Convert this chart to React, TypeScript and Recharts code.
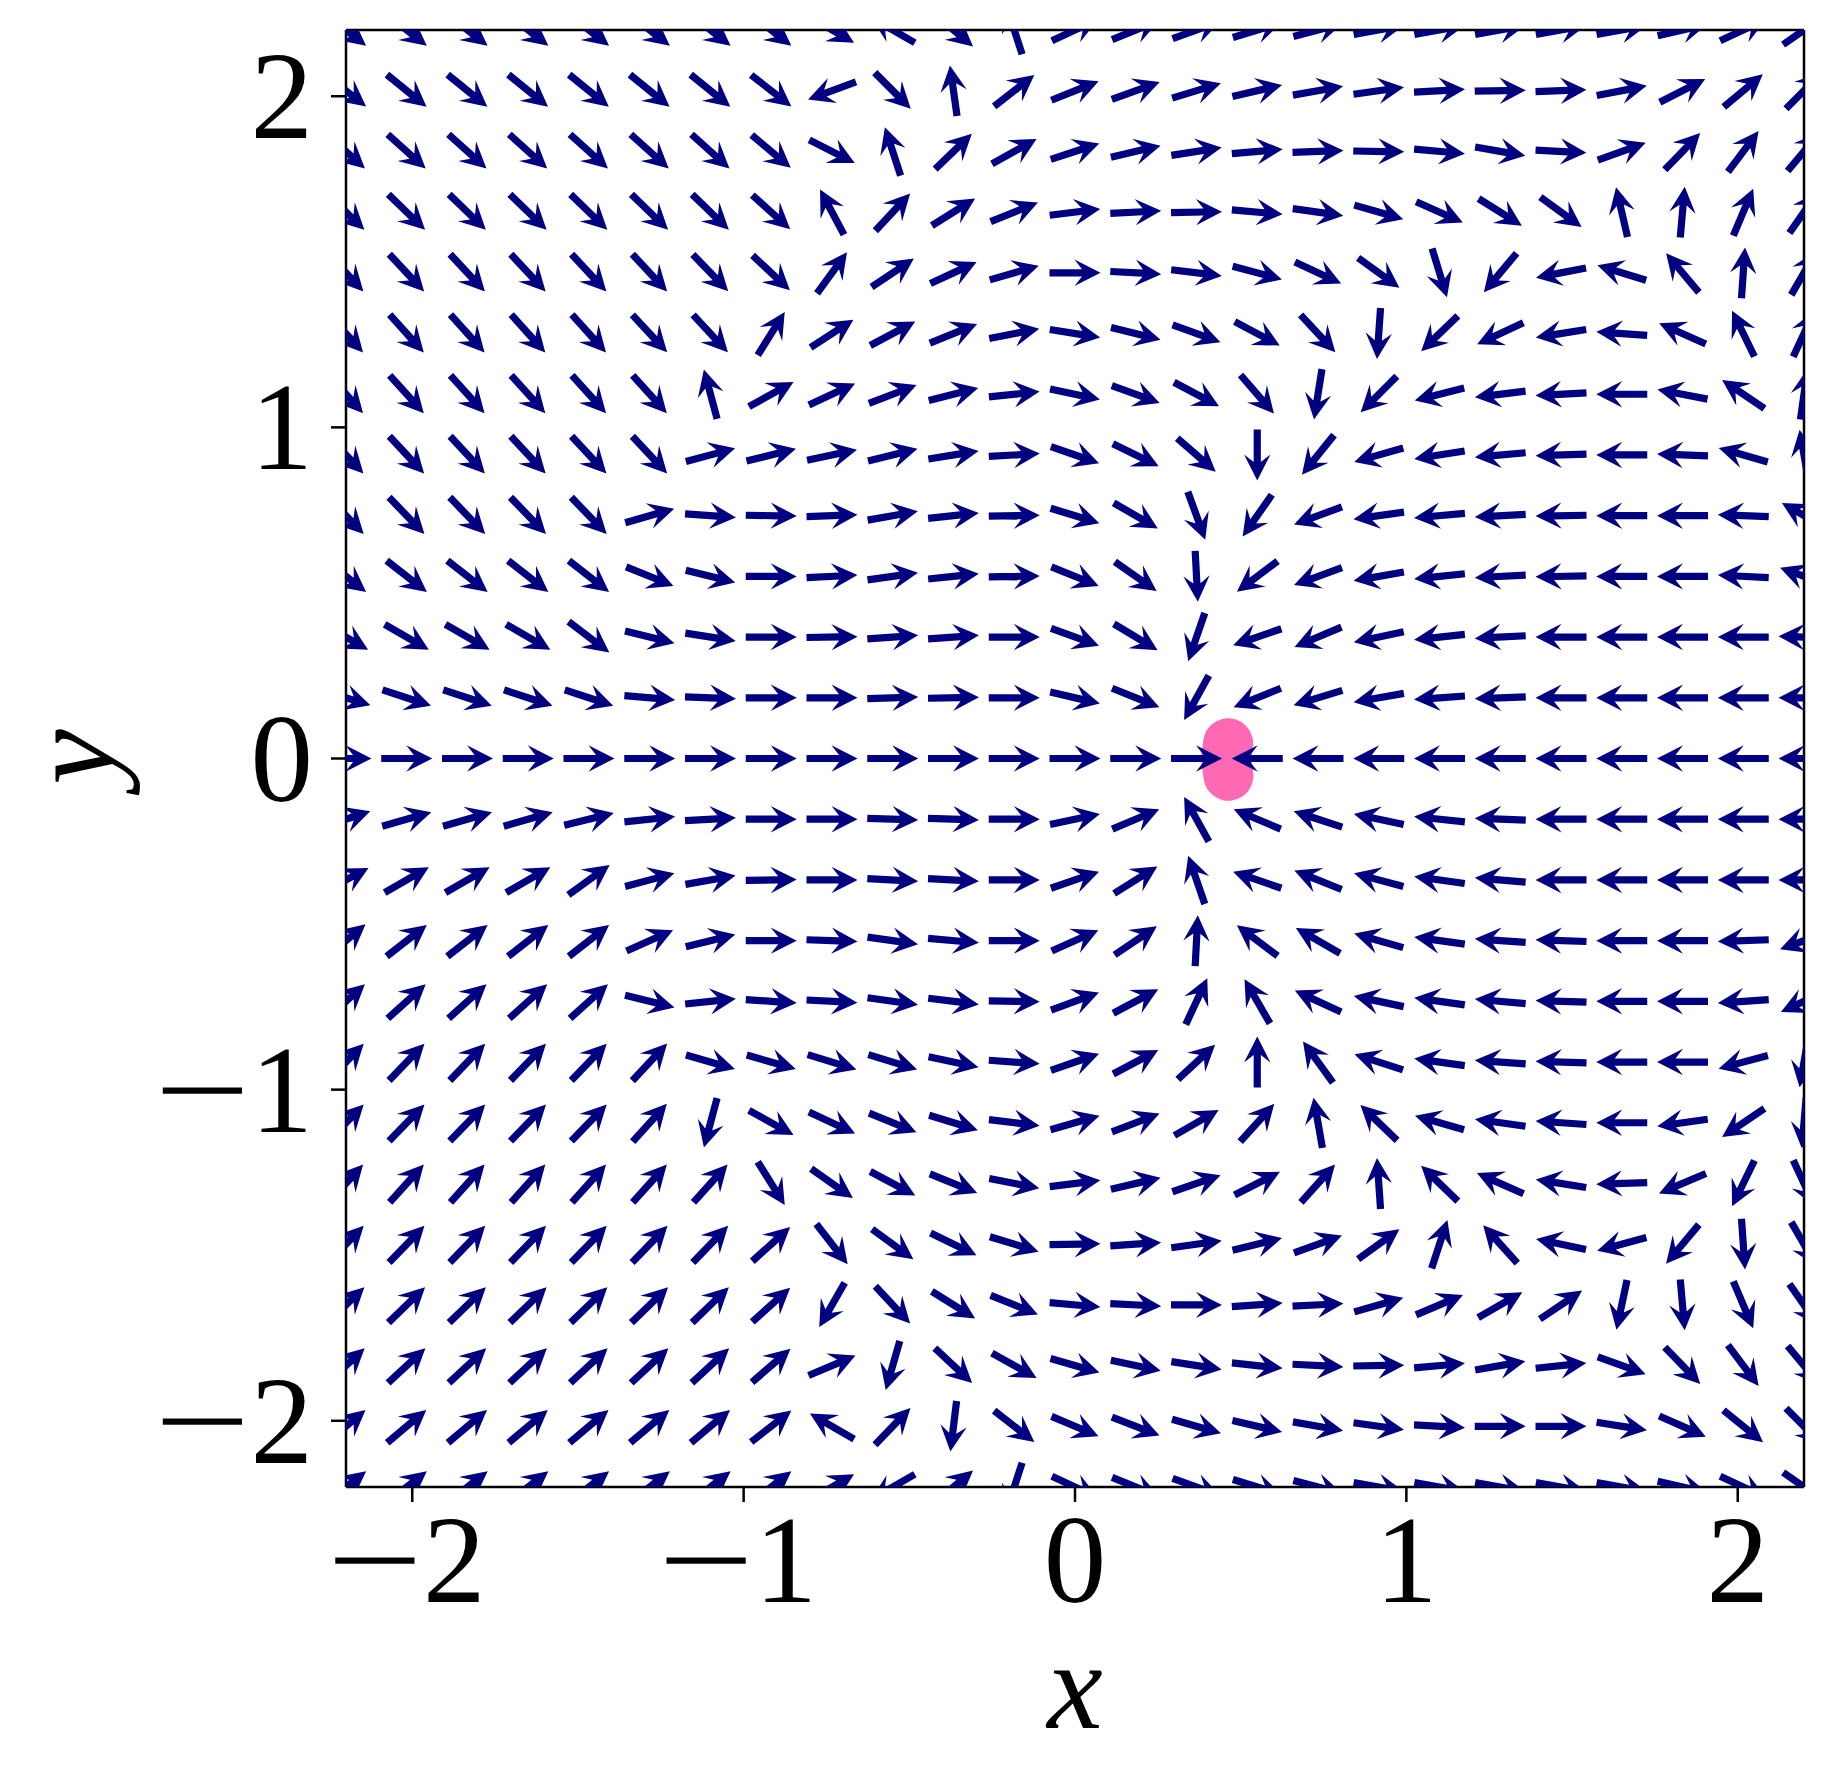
import React from "react";
import { ScatterChart, Scatter, XAxis, YAxis, ReferenceLine } from "recharts";

// grid of the quiver, left to right and top to bottom
const gridX = [
  -2.2, -2.0167, -1.8333, -1.65, -1.4667, -1.2833, -1.1, -0.9167, -0.7333, -0.55, -0.3667, -0.1833, 0,
  0.1833, 0.3667, 0.55, 0.7333, 0.9167, 1.1, 1.2833, 1.4667, 1.65, 1.8333, 2.0167, 2.2,
];
const gridY = [
  2.2, 2.0167, 1.8333, 1.65, 1.4667, 1.2833, 1.1, 0.9167, 0.7333, 0.55, 0.3667, 0.1833, 0,
  -0.1833, -0.3667, -0.55, -0.7333, -0.9167, -1.1, -1.2833, -1.4667, -1.65, -1.8333, -2.0167, -2.2,
];

// arrow direction in degrees (0 = right, 90 = up), one row per gridY value
const directions: number[][] = [
  [-38, -38, -38, -38, -38, -38, -38, -38, -30, 150, -40, 108, 25, 22, 20, 17, 15, 10, 10, 10, 10, 10, 13, 25, 35],
  [-38, -39, -39, -39, -39, -39, -39, -38, 200, -45, 98, 38, 22, 20, 17, 13, 10, 8, 3, 1, 2, 11, 27, 40, 45],
  [-42, -42, -42, -42, -42, -42, -42, -40, -27, 108, 44, 29, 18, 13, 9, 5, 2, -1, -5, -10, -3, 20, 46, 53, 50],
  [-44, -44, -44, -44, -44, -44, -44, -42, 118, 47, 32, 22, 7, 3, 1, -5, -8, -16, -24, -32, -36, 103, 85, 67, 55],
  [-47, -47, -47, -47, -47, -47, -46, -43, 54, 34, 25, 16, 0, -3, -7, -15, -25, -36, -73, 230, 191, 163, 130, 86, 60],
  [-48, -48, -48, -48, -48, -47, -47, 58, 33, 28, 22, 11, -9, -14, -20, -28, -47, 266, 224, 205, 189, 176, 156, 116, 65],
  [-48, -48, -48, -48, -48, -48, 105, 29, 25, 21, 14, 6, -12, -20, -28, -49, 261, 225, 194, 187, 183, 180, 169, 146, 82],
  [-47, -47, -47, -47, -47, -47, 15, 14, 12, 14, 9, 3, -19, -26, -41, 270, 231, 196, 189, 185, 182, 180, 178, 164, 100],
  [-46, -46, -46, -46, -46, 16, -4, -1, 2, 10, 6, 1, -17, -30, -70, 235, 200, 188, 185, 183, 181, 180, 180, 178, 150],
  [-38, -38, -38, -38, -38, -22, -14, 0, 3, 8, 6, 1, -22, -35, -87, 217, 200, 190, 186, 183, 181, 180, 180, 177, 160],
  [-30, -30, -30, -30, -37, -14, -9, 0, 1, 4, 4, 0, -20, -31, 251, 199, 203, 192, 186, 183, 180, 180, 180, 180, 178],
  [-17, -18, -18, -18, -18, -5, -2, 0, 0, 2, 1, 0, -13, -22, 241, 202, 197, 190, 184, 182, 180, 180, 180, 180, 180],
  [0, 0, 0, 0, 0, 0, 0, 0, 0, 0, 0, 0, 0, 0, 0, 180, 180, 180, 180, 180, 180, 180, 180, 180, 180],
  [18, 16, 16, 16, 14, 6, 3, 0, 0, -2, -2, 0, 12, 23, 119, 157, 162, 168, 174, 178, 180, 180, 180, 180, 180],
  [28, 30, 30, 30, 36, 15, 10, 1, 0, -3, -3, 0, 19, 32, 109, 161, 158, 165, 172, 175, 180, 180, 180, 180, 180],
  [40, 38, 38, 38, 38, 24, 14, 0, -2, -8, -5, 0, 24, 34, 87, 143, 150, 164, 172, 176, 178, 180, 180, 182, 200],
  [42, 42, 42, 42, 42, -14, 6, -4, -3, -8, -7, -1, 20, 28, 65, 120, 155, 168, 172, 175, 178, 180, 180, 184, 205],
  [46, 46, 46, 46, 46, 47, -16, -16, -17, -17, -12, -4, 19, 28, 43, 90, 126, 162, 172, 176, 178, 180, 180, 195, 260],
  [46, 46, 46, 46, 46, 48, 255, -29, -25, -22, -17, -7, 16, 21, 30, 48, 100, 136, 164, 172, 176, 180, 188, 214, 265],
  [48, 48, 48, 48, 48, 48, 48, -58, -35, -28, -22, -11, 7, 13, 19, 27, 48, 94, 136, 156, 171, 182, 203, 244, 295],
  [46, 46, 46, 46, 46, 46, 46, 42, -52, -36, -26, -17, 1, 4, 8, 14, 20, 36, 72, 132, 168, 195, 230, 274, 300],
  [44, 44, 44, 44, 44, 44, 44, 42, 240, -47, -32, -22, -5, -3, 0, 4, 3, 16, 23, 30, 34, 258, 275, 293, 305],
  [43, 43, 43, 43, 43, 43, 43, 41, 23, 254, -43, -29, -16, -12, -9, -6, -3, 1, 5, 10, 6, -20, -46, -53, -50],
  [40, 40, 40, 40, 40, 40, 40, 38, 150, 46, 263, -38, -23, -21, -16, -13, -10, -8, -3, 0, 0, -9, -24, -39, -45],
  [38, 38, 38, 38, 38, 38, 38, 38, 30, 210, 40, 252, -25, -22, -20, -17, -15, -10, -10, -10, -10, -10, -13, -25, -35],
];

// pink fixed point
const fixedPoint = [
  { x: 0.462, y: 0.046 },
  { x: 0.456, y: 0.0 },
  { x: 0.463, y: -0.052 },
];

const xTicks = [-2, -1, 0, 1, 2];
const yTicks = [-2, -1, 0, 1, 2];

const arrows = directions.flatMap((row, r) =>
  row.map((angle, c) => ({ x: gridX[c], y: gridY[r], angle }))
);

const FONT = '"Liberation Serif", "DejaVu Serif", serif';
const NAVY = "#000080";
const ARROW = "-25.5,-3.6 7,-3.6 -0.5,-13.2 25.5,0 -0.5,13.2 7,3.6 -25.5,3.6";

function Arrow(props: any) {
  const { cx, cy, payload } = props;
  if (cx == null || cy == null) return <g />;
  return (
    <polygon
      points={ARROW}
      fill={NAVY}
      transform={`translate(${cx},${cy}) rotate(${-payload.angle})`}
    />
  );
}

// tick text with the wide math minus of the original
function TickText(props: { x: number; y: number; value: number; anchor: "middle" | "end" }) {
  const { x, y, value, anchor } = props;
  return (
    <text x={x} y={y} textAnchor={anchor} fontFamily={FONT} fontSize={125} fill="#000">
      {value < 0 && (
        <tspan textLength={96} lengthAdjust="spacingAndGlyphs">
          {"\u2212"}
        </tspan>
      )}
      <tspan>{String(Math.abs(value))}</tspan>
    </text>
  );
}

function XTick(props: any) {
  const { x, y, payload } = props;
  const shift = payload.value < 0 ? -6 : 0;
  return <TickText x={x + shift} y={y + 100} value={payload.value} anchor="middle" />;
}

function YTick(props: any) {
  const { x, y, payload } = props;
  return <TickText x={x - 18} y={y + 42} value={payload.value} anchor="end" />;
}

const line = { stroke: "#000", strokeWidth: 2.5 };

export default function App() {
  return (
    <div style={{ position: "absolute", left: 0, top: 0, background: "#fff" }}>
      <ScatterChart width={1834} height={1787} margin={{ top: 30, right: 30, bottom: 200, left: 246 }}>
        <XAxis
          type="number"
          dataKey="x"
          domain={[-2.2, 2.2]}
          ticks={xTicks}
          allowDataOverflow
          height={100}
          axisLine={line}
          tickLine={line}
          tickSize={15}
          tickMargin={0}
          tick={<XTick />}
          label={() => (
            <text x={1075} y={1728} textAnchor="middle" fontFamily={FONT} fontStyle="italic" fontSize={125} fill="#000">
              x
            </text>
          )}
        />
        <YAxis
          type="number"
          dataKey="y"
          domain={[-2.2, 2.2]}
          ticks={yTicks}
          allowDataOverflow
          width={100}
          axisLine={line}
          tickLine={line}
          tickSize={15}
          tickMargin={0}
          tick={<YTick />}
          label={() => (
            <text
              x={113}
              y={757}
              transform="rotate(-90 113 757)"
              textAnchor="middle"
              fontFamily={FONT}
              fontStyle="italic"
              fontSize={125}
              fill="#000"
            >
              y
            </text>
          )}
        />
        <Scatter
          data={fixedPoint}
          line={{ stroke: "#ff69b4", strokeWidth: 50, strokeLinecap: "round", strokeLinejoin: "round" }}
          lineJointType="linear"
          shape={() => <g />}
          isAnimationActive={false}
        />
        <Scatter data={arrows} shape={Arrow} isAnimationActive={false} />
        <ReferenceLine x={2.2} stroke="#000" strokeWidth={2.5} />
        <ReferenceLine y={2.2} stroke="#000" strokeWidth={2.5} />
      </ScatterChart>
    </div>
  );
}
